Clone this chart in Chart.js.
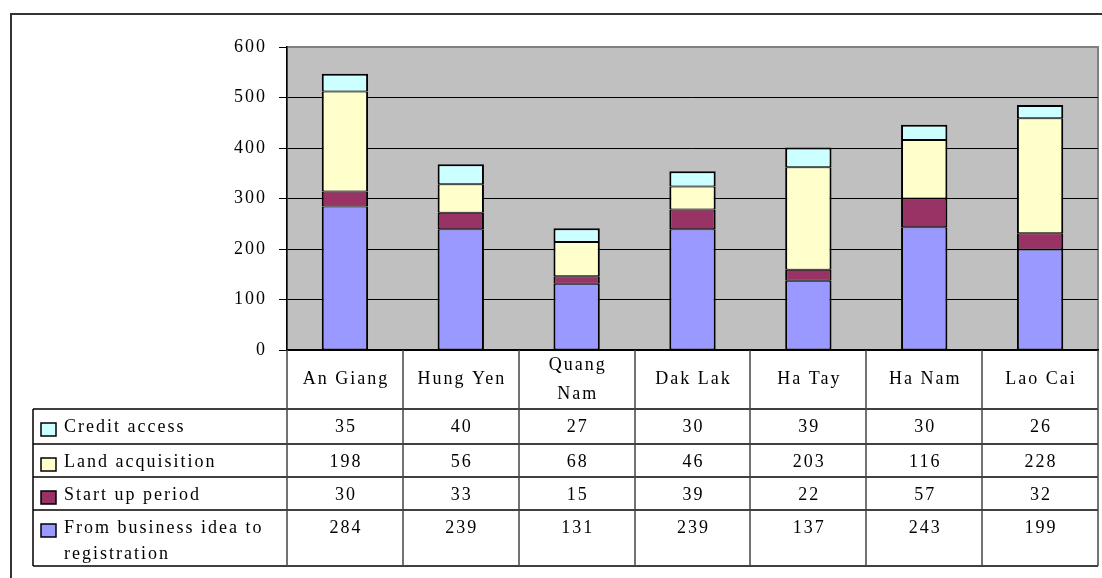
<!DOCTYPE html>
<html>
<head>
<meta charset="utf-8">
<script src="https://cdn.jsdelivr.net/npm/chart.js@4.4.1/dist/chart.umd.min.js"></script>
<style>
  html, body { margin: 0; padding: 0; background: #fff; }
  #wrap { width: 1102px; height: 578px; }
</style>
</head>
<body>
<div id="wrap"><canvas id="chart" width="1102" height="578"></canvas></div>
<script>
// Time spent per stage, by province (stacked, bottom stage first)
const categories = ['An Giang', 'Hung Yen', ['Quang', 'Nam'], 'Dak Lak', 'Ha Tay', 'Ha Nam', 'Lao Cai'];
const ideaToRegistration = [284, 239, 131, 239, 137, 243, 199];
const startUpPeriod = [30, 33, 15, 39, 22, 57, 32];
const landAcquisition = [198, 56, 68, 46, 203, 116, 228];
const creditAccess = [35, 40, 27, 30, 39, 30, 26];
const yMax = 600;
const yStep = 100;

const FONT = '18px "Liberation Serif", "Times New Roman", serif';
const SPACING = '2px';

// table geometry below the plot
const TABLE_LEFT = 33;
const HEADER_BOTTOM = 409;
const ROW_HEIGHTS = [35, 33, 33, 56];

function wrapText(ctx, text, maxWidth) {
    const words = text.split(' ');
    const lines = [];
    let line = '';
    words.forEach(w => {
        const test = line ? line + ' ' + w : w;
        if (line && ctx.measureText(test).width > maxWidth) {
            lines.push(line);
            line = w;
        } else {
            line = test;
        }
    });
    if (line) lines.push(line);
    return lines;
}

const frameAndTable = {
    id: 'frameAndTable',
    beforeDraw(chart) {
        const { ctx, chartArea: a } = chart;
        ctx.save();
        ctx.fillStyle = '#fff';
        ctx.fillRect(0, 0, chart.width, chart.height);

        // outer frame (top and left edges show)
        ctx.strokeStyle = '#333';
        ctx.lineWidth = 2;
        ctx.beginPath();
        ctx.moveTo(11, chart.height);
        ctx.lineTo(11, 14);
        ctx.lineTo(chart.width, 14);
        ctx.stroke();

        // plot area
        ctx.fillStyle = '#c0c0c0';
        ctx.fillRect(a.left, a.top, a.width, a.height);
        ctx.strokeStyle = '#808080';
        ctx.lineWidth = 2;
        ctx.strokeRect(a.left, a.top, a.width, a.height);
        ctx.restore();

        // spaced lettering for the axis labels too
        ctx.letterSpacing = SPACING;
    },
    afterDraw(chart) {
        const { ctx, chartArea: a } = chart;
        const xs = chart.scales.x;
        const n = categories.length;
        const step = xs.width / n;

        const rowTops = [HEADER_BOTTOM];
        ROW_HEIGHTS.forEach((h, i) => rowTops.push(rowTops[i] + h));
        const tableBottom = rowTops[rowTops.length - 1];

        ctx.save();
        ctx.letterSpacing = SPACING;

        // horizontal rules
        ctx.strokeStyle = '#000';
        ctx.lineWidth = 1.5;
        rowTops.forEach(y => {
            ctx.beginPath();
            ctx.moveTo(TABLE_LEFT, y);
            ctx.lineTo(a.right, y);
            ctx.stroke();
        });
        ctx.beginPath();
        ctx.moveTo(TABLE_LEFT, HEADER_BOTTOM);
        ctx.lineTo(TABLE_LEFT, tableBottom);
        ctx.stroke();

        // column rules
        ctx.strokeStyle = '#444';
        for (let i = 0; i <= n; i++) {
            const x = Math.round(a.left + i * step);
            ctx.beginPath();
            ctx.moveTo(x, a.bottom);
            ctx.lineTo(x, tableBottom);
            ctx.stroke();
        }

        ctx.fillStyle = '#000';
        ctx.font = FONT;
        ctx.textBaseline = 'middle';
        ctx.textAlign = 'center';

        // category header row
        const headerMid = (a.bottom + HEADER_BOTTOM) / 2;
        categories.forEach((c, i) => {
            const cx = xs.getPixelForValue(i) + 1;
            const lines = Array.isArray(c) ? c : [c];
            const lh = 29;
            lines.forEach((l, k) => {
                ctx.fillText(l, cx, headerMid + (k - (lines.length - 1) / 2) * lh);
            });
        });

        // series rows, top of stack first
        const rows = chart.data.datasets.slice().reverse();
        rows.forEach((ds, r) => {
            const top = rowTops[r];
            const mid = top + 18;

            // legend key
            ctx.fillStyle = ds.backgroundColor;
            ctx.fillRect(41, top + 14, 15, 13);
            ctx.strokeStyle = '#000';
            ctx.lineWidth = 1.5;
            ctx.strokeRect(41, top + 14, 15, 13);

            ctx.fillStyle = '#000';
            ctx.textAlign = 'left';
            wrapText(ctx, ds.label, 220).forEach((l, k) => {
                ctx.fillText(l, 64, mid + k * 26);
            });

            ctx.textAlign = 'center';
            ds.data.forEach((v, i) => {
                ctx.fillText(String(v), xs.getPixelForValue(i) + 1, mid);
            });
        });
        ctx.restore();
    }
};

Chart.defaults.font.family = '"Liberation Serif", "Times New Roman", serif';
Chart.defaults.font.size = 18;
Chart.defaults.color = '#000';

// segments share a single line where they meet; the top segment gets a full edge
const segBorder = { top: 1, bottom: 1, left: 2, right: 2 };
const barStyle = { borderColor: '#000', borderSkipped: false };

new Chart(document.getElementById('chart'), {
    type: 'bar',
    data: {
        labels: categories,
        datasets: [
            { label: 'From business idea to registration', data: ideaToRegistration, backgroundColor: '#9999ff', borderWidth: segBorder, ...barStyle },
            { label: 'Start up period', data: startUpPeriod, backgroundColor: '#993366', borderWidth: segBorder, ...barStyle },
            { label: 'Land acquisition', data: landAcquisition, backgroundColor: '#ffffcc', borderWidth: segBorder, ...barStyle },
            { label: 'Credit access', data: creditAccess, backgroundColor: '#ccffff', borderWidth: { ...segBorder, top: 2 }, ...barStyle }
        ]
    },
    options: {
        responsive: false,
        animation: false,
        events: [],
        layout: { padding: { left: 0, right: 4, top: 47, bottom: 228 } },
        datasets: { bar: { barPercentage: 0.4, categoryPercentage: 1 } },
        plugins: { legend: { display: false }, tooltip: { enabled: false } },
        scales: {
            x: {
                stacked: true,
                ticks: { display: false },
                grid: { display: false, drawTicks: false },
                border: { display: true, color: '#000', width: 1.5 },
                afterFit: s => { s.height = 0; }
            },
            y: {
                stacked: true,
                min: 0,
                max: yMax,
                ticks: { stepSize: yStep, padding: 12, font: { size: 18 } },
                grid: {
                    color: c => (c.tick && c.tick.value === yMax ? '#808080' : '#000'),
                    tickColor: '#000',
                    tickLength: 8,
                    lineWidth: 1
                },
                border: { color: '#000', width: 1.5 },
                afterFit: s => { s.width = 287; }
            }
        }
    },
    plugins: [frameAndTable]
});
</script>
</body>
</html>
